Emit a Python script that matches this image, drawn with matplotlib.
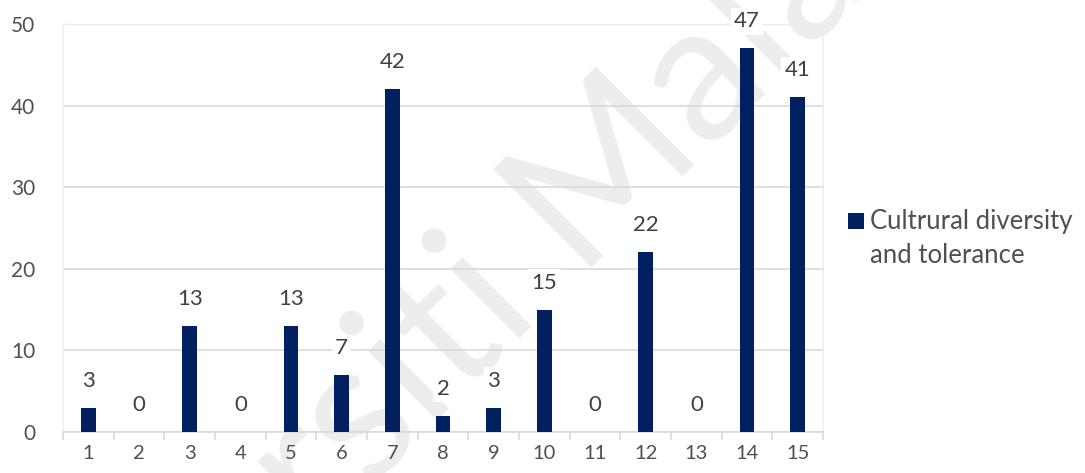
import matplotlib.pyplot as plt
from matplotlib.patches import Rectangle
from matplotlib.ticker import FixedLocator

plt.rcParams['font.family'] = ['Lato', 'DejaVu Sans']

categories = [str(i) for i in range(1, 16)]
values = [3, 0, 13, 0, 13, 7, 42, 2, 3, 15, 0, 22, 0, 47, 41]
series_name = "Cultrural diversity\nand tolerance"
y_ticks = [0, 10, 20, 30, 40, 50]

NAVY = "#002060"
GRID = "#d9d9d9"
TEXT = "#505050"
W, H = 1085, 473

fig = plt.figure(figsize=(W / 100, H / 100), dpi=100)
ax = fig.add_axes([63 / W, 1 - 432 / H, 760 / W, 408 / H])
ax.set_facecolor("none")

# faint watermark under the bars and grid, split at the word gap
wm = dict(fontsize=140, color="#ededed", rotation=45, rotation_mode="anchor",
          va="baseline", transform=fig.transFigure, zorder=0.2, clip_on=False)
ax.text(574 / W, 1 - 268 / H, "Malaya", ha="left", **wm)
ax.text(538 / W, 1 - 304 / H, "Universiti", ha="right", **wm)

x = list(range(len(categories)))
ax.bar(x, values, width=0.29, color=NAVY, zorder=3)

for xi, v in zip(x, values):
    ax.annotate(str(v), (xi, v), xytext=(0, 27), textcoords="offset pixels",
                ha="center", va="center", fontsize=16, color="#404040", zorder=4,
                bbox=dict(boxstyle="square,pad=0.15", fc="white", ec="none"))

ax.set_xlim(-0.5, len(categories) - 0.5)
ax.set_ylim(0, 50)
ax.set_yticks(y_ticks)
ax.set_xticks(x)
ax.set_xticklabels(categories)
ax.xaxis.set_minor_locator(FixedLocator([i - 0.5 for i in range(len(categories) + 1)]))

ax.grid(axis="y", color=GRID, linewidth=1.2)
ax.set_axisbelow(True)
for side in ["left", "right", "top"]:
    ax.spines[side].set_color("#ececec")
    ax.spines[side].set_linewidth(1)
ax.spines["bottom"].set_color(GRID)
ax.spines["bottom"].set_linewidth(1.2)

ax.tick_params(axis="y", length=0, pad=20, labelsize=15, labelcolor=TEXT)
ax.tick_params(axis="x", which="major", length=0, pad=9, labelsize=14.5, labelcolor=TEXT)
ax.tick_params(axis="x", which="minor", length=6, width=1.2, color=GRID)

# legend: square swatch next to the first line of a two-line label
fig.add_artist(Rectangle((848 / W, 1 - 229 / H), 16 / W, 16 / H,
                         transform=fig.transFigure, fc=NAVY, ec="none"))
fig.text(870 / W, 1 - 209 / H, series_name, fontsize=18.5, color=TEXT,
         ha="left", va="top", linespacing=1.45)

fig.savefig("out.png", dpi=100)
